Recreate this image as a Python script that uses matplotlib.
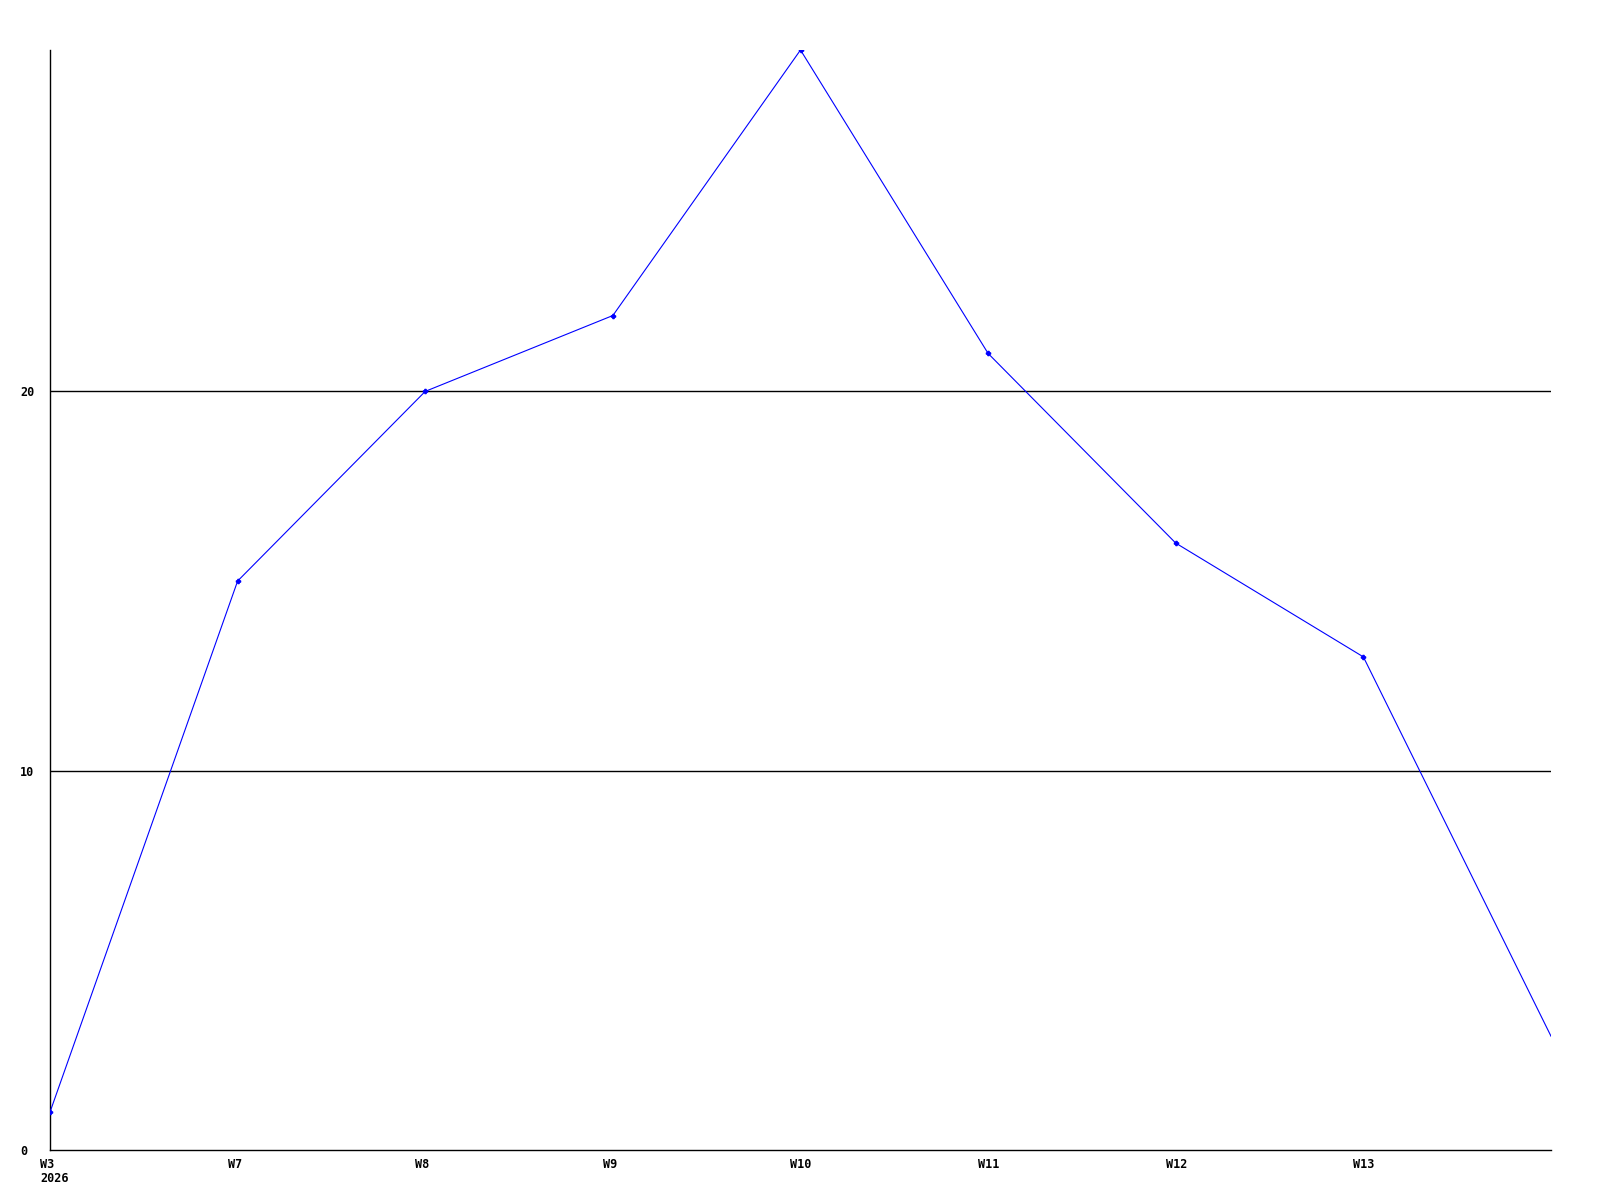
import matplotlib
matplotlib.use("Agg")
import matplotlib.pyplot as plt
from matplotlib.transforms import ScaledTranslation

weeks = ["W3\n2026", "W7", "W8", "W9", "W10", "W11", "W12", "W13"]
counts = [1, 15, 20, 22, 29, 21, 16, 13, 3]
yticks = [0, 10, 20]

fig = plt.figure(figsize=(16, 12), dpi=100)
# plot area in pixels of the 1600x1200 canvas
left, right, top, bottom = 50, 1551, 50, 1150
ax = fig.add_axes([left / 1600, 1 - bottom / 1200, (right - left) / 1600, (bottom - top) / 1200])

x = list(range(len(counts)))
for y in yticks[1:]:
    ax.axhline(y, color="black", linewidth=1.0, zorder=1)

ax.plot(x, counts, color="#0000ff", linewidth=0.8, marker="P", markersize=3,
        markevery=list(range(len(counts) - 1)), zorder=3)

ax.set_xlim(0, len(counts) - 1)
ax.set_ylim(0, 29)
ax.set_xticks([])
ax.set_yticks(yticks)

font = dict(family="DejaVu Sans Mono", weight="bold", size=8.5)
# x labels start 10px left of their position and 8px below the axis
offset = ScaledTranslation(-10 / 100, -8 / 100, fig.dpi_scale_trans)
for i, w in enumerate(weeks):
    ax.text(i, 0, w, transform=ax.get_xaxis_transform() + offset,
            ha="left", va="top", linespacing=1.1, clip_on=False, **font)
for lab in ax.get_yticklabels():
    lab.set(**font)
    lab.set_horizontalalignment("left")

ax.tick_params(axis="both", length=0)
ax.tick_params(axis="y", pad=30 * 72 / 100)
for s in ("top", "right"):
    ax.spines[s].set_visible(False)
for s in ("left", "bottom"):
    ax.spines[s].set_linewidth(1.0)

fig.savefig("out.png", dpi=100)
